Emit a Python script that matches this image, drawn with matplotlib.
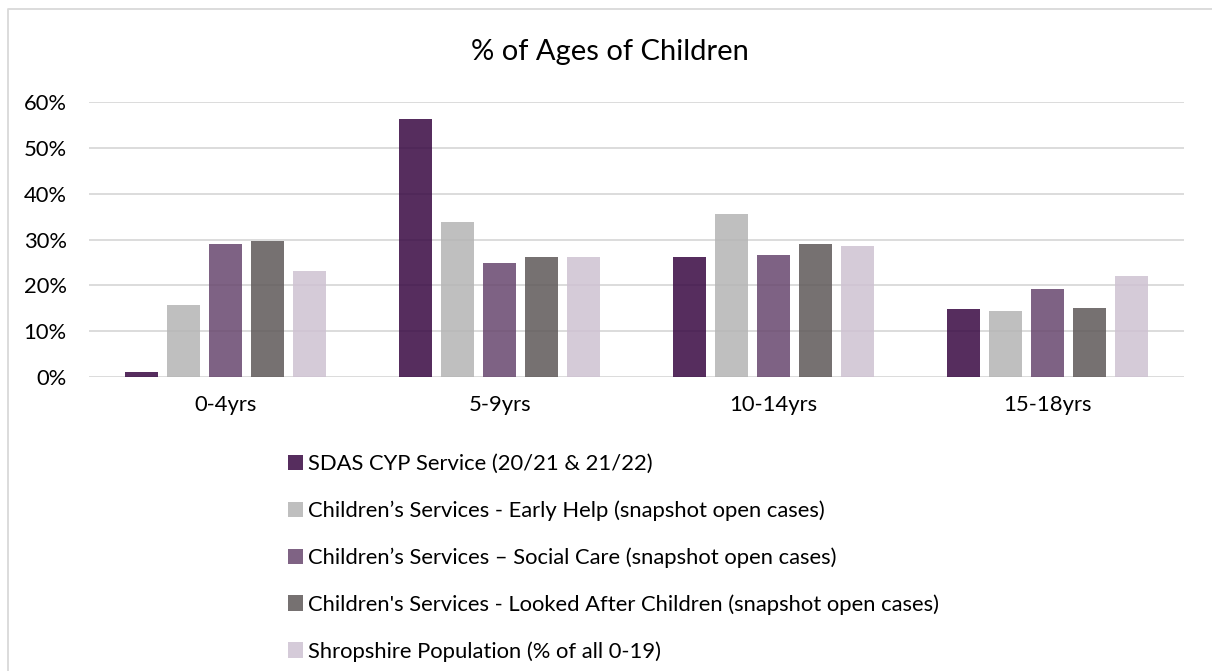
import matplotlib
matplotlib.use("Agg")
import matplotlib.pyplot as plt
from matplotlib.patches import Patch
from matplotlib.lines import Line2D
from matplotlib.ticker import PercentFormatter
import numpy as np

categories = ["0-4yrs", "5-9yrs", "10-14yrs", "15-18yrs"]
series_names = [
    "SDAS CYP Service (20/21 & 21/22)",
    "Children\u2019s Services - Early Help (snapshot open cases)",
    "Children\u2019s Services \u2013 Social Care (snapshot open cases)",
    "Children's Services - Looked After Children (snapshot open cases)",
    "Shropshire Population (% of all 0-19)",
]
sdas = [1.2, 56.3, 26.2, 14.9]
early_help = [15.8, 33.8, 35.6, 14.5]
social_care = [29.1, 24.8, 26.6, 19.3]
looked_after = [29.7, 26.2, 29.1, 15.1]
population = [23.1, 26.2, 28.5, 22.0]
series_values = [sdas, early_help, social_care, looked_after, population]
colors = ["#562D5E", "#BFBFBF", "#7F6384", "#767171", "#D5CBD9"]
yticks = [0, 10, 20, 30, 40, 50, 60]
title = "% of Ages of Children"

FONT = "Lato"
plt.rcParams["font.family"] = [FONT, "DejaVu Sans"]
FS = 15.8

W, H = 1212, 671
fig = plt.figure(figsize=(W / 100, H / 100), dpi=100)
fig.patch.set_facecolor("white")

# outer chart border (only top/left visible in the crop)
bx, by = 8 / W, 1 - 9.3 / H
fig.lines.append(Line2D([bx, bx, 1.0], [0.0, by, by], transform=fig.transFigure,
                        color="#D9D9D9", linewidth=1.3, solid_capstyle="butt"))

left, right = 89 / W, 1184 / W
bottom, top = 1 - 377.3 / H, 1 - 101.7 / H
ax = fig.add_axes([left, bottom, right - left, top - bottom])

x = np.arange(len(categories))
bw = 33 / 273.75
pitch = 42 / 273.75
alpha = 0.85


def true_color(hexc, a):
    c = np.array(matplotlib.colors.to_rgb(hexc))
    t = (c - (1 - a)) / a
    return tuple(np.clip(t, 0, 1))


for i, (vals, col) in enumerate(zip(series_values, colors)):
    offs = (i - 2) * pitch
    ax.bar(x + offs, vals, width=bw, color=true_color(col, alpha), alpha=alpha,
           zorder=3, label=series_names[i], linewidth=0)

ax.set_xlim(-0.5, len(categories) - 0.5)
ax.set_ylim(0, 60)
ax.set_yticks(yticks)
ax.yaxis.set_major_formatter(PercentFormatter(decimals=0))
ax.set_xticks(x)
ax.set_xticklabels(categories)
ax.grid(axis="y", color="#D9D9D9", linewidth=1.3, zorder=0)
ax.set_axisbelow(True)
for s in ax.spines.values():
    s.set_visible(False)
ax.tick_params(axis="both", length=0, labelsize=FS, colors="#000000")
ax.tick_params(axis="y", pad=16)
ax.tick_params(axis="x", pad=13)

fig.text(610 / W, 1 - 52 / H, title, ha="center", va="center",
         fontsize=21, color="#000000")

handles = [Patch(facecolor=c, edgecolor="none") for c in colors]
leg = fig.legend(handles, series_names, loc="upper left",
                 bbox_to_anchor=(288 / W, 1 - 454 / H), frameon=False,
                 fontsize=FS, handlelength=0.69, handleheight=0.69,
                 handletextpad=0.21, labelspacing=1.2, borderpad=0, borderaxespad=0)

fig.savefig("out.png", dpi=100, facecolor="white")
